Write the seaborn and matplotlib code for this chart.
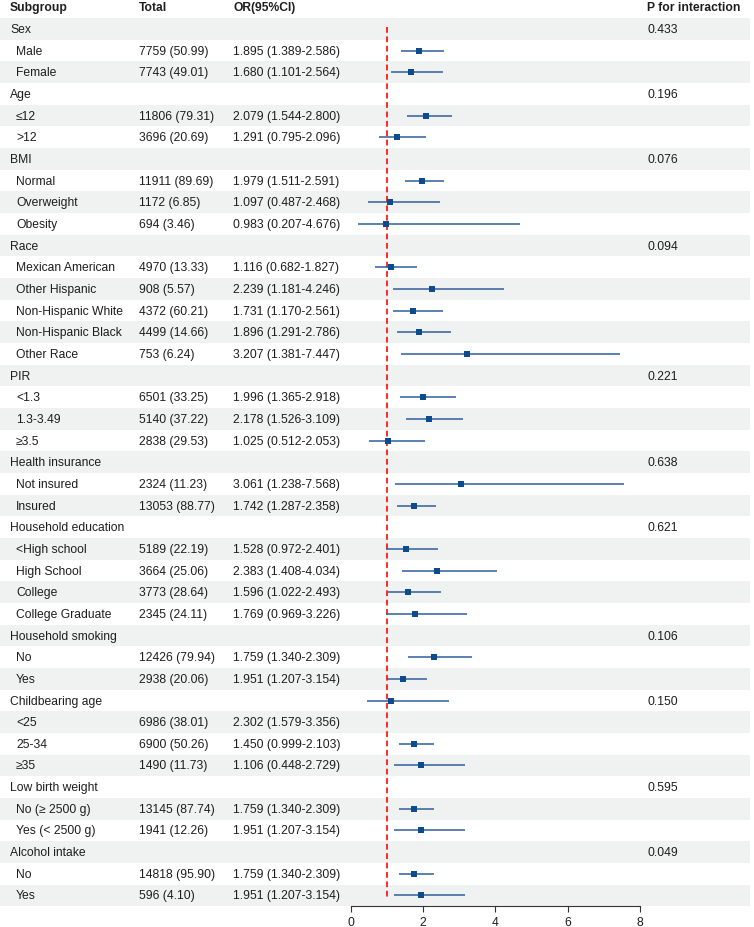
import numpy as np
import pandas as pd
import matplotlib
matplotlib.use("Agg")
import matplotlib.pyplot as plt
import seaborn as sns

# ---------------- data ----------------
labels = ["Sex", "Male", "Female", "Age", "≤12", ">12", "BMI", "Normal", "Overweight", "Obesity",
          "Race", "Mexican American", "Other Hispanic", "Non-Hispanic White", "Non-Hispanic Black",
          "Other Race", "PIR", "<1.3", "1.3-3.49", "≥3.5", "Health insurance", "Not insured",
          "Insured", "Household education", "<High school", "High School", "College",
          "College Graduate", "Household smoking", "No", "Yes", "Childbearing age", "<25",
          "25-34", "≥35", "Low birth weight", "No (≥ 2500 g)", "Yes (< 2500 g)",
          "Alcohol intake", "No", "Yes"]
is_group = [1, 0, 0, 1, 0, 0, 1, 0, 0, 0,
            1, 0, 0, 0, 0, 0, 1, 0, 0, 0,
            1, 0, 0, 1, 0, 0, 0, 0, 1, 0,
            0, 1, 0, 0, 0, 1, 0, 0, 1, 0, 0]
totals = ["", "7759 (50.99)", "7743 (49.01)", "", "11806 (79.31)", "3696 (20.69)", "",
          "11911 (89.69)", "1172 (6.85)", "694 (3.46)", "", "4970 (13.33)", "908 (5.57)",
          "4372 (60.21)", "4499 (14.66)", "753 (6.24)", "", "6501 (33.25)", "5140 (37.22)",
          "2838 (29.53)", "", "2324 (11.23)", "13053 (88.77)", "", "5189 (22.19)",
          "3664 (25.06)", "3773 (28.64)", "2345 (24.11)", "", "12426 (79.94)", "2938 (20.06)",
          "", "6986 (38.01)", "6900 (50.26)", "1490 (11.73)", "", "13145 (87.74)",
          "1941 (12.26)", "", "14818 (95.90)", "596 (4.10)"]
or_text = ["", "1.895 (1.389-2.586)", "1.680 (1.101-2.564)", "", "2.079 (1.544-2.800)",
           "1.291 (0.795-2.096)", "", "1.979 (1.511-2.591)", "1.097 (0.487-2.468)",
           "0.983 (0.207-4.676)", "", "1.116 (0.682-1.827)", "2.239 (1.181-4.246)",
           "1.731 (1.170-2.561)", "1.896 (1.291-2.786)", "3.207 (1.381-7.447)", "",
           "1.996 (1.365-2.918)", "2.178 (1.526-3.109)", "1.025 (0.512-2.053)", "",
           "3.061 (1.238-7.568)", "1.742 (1.287-2.358)", "", "1.528 (0.972-2.401)",
           "2.383 (1.408-4.034)", "1.596 (1.022-2.493)", "1.769 (0.969-3.226)", "",
           "1.759 (1.340-2.309)", "1.951 (1.207-3.154)", "", "2.302 (1.579-3.356)",
           "1.450 (0.999-2.103)", "1.106 (0.448-2.729)", "", "1.759 (1.340-2.309)",
           "1.951 (1.207-3.154)", "", "1.759 (1.340-2.309)", "1.951 (1.207-3.154)"]
p_text = ["0.433", "", "", "0.196", "", "", "0.076", "", "", "", "0.094", "", "", "", "", "",
          "0.221", "", "", "", "0.638", "", "", "0.621", "", "", "", "", "0.106", "", "",
          "0.150", "", "", "", "0.595", "", "", "0.049", "", ""]

nan = np.nan
# plotted estimates (as drawn in the figure)
plot_or = [nan, 1.895, 1.680, nan, 2.079, 1.291, nan, 1.979, 1.097, 0.983,
           nan, 1.116, 2.239, 1.731, 1.896, 3.207, nan, 1.996, 2.178, 1.025,
           nan, 3.061, 1.742, nan, 1.528, 2.383, 1.596, 1.769, nan, 2.302,
           1.450, 1.106, nan, 1.759, 1.951, nan, 1.759, 1.951, nan, 1.759, 1.951]
plot_lo = [nan, 1.389, 1.101, nan, 1.544, 0.795, nan, 1.511, 0.487, 0.207,
           nan, 0.682, 1.181, 1.170, 1.291, 1.381, nan, 1.365, 1.526, 0.512,
           nan, 1.238, 1.287, nan, 0.972, 1.408, 1.022, 0.969, nan, 1.579,
           0.999, 0.448, nan, 1.340, 1.207, nan, 1.340, 1.207, nan, 1.340, 1.207]
plot_hi = [nan, 2.586, 2.564, nan, 2.800, 2.096, nan, 2.591, 2.468, 4.676,
           nan, 1.827, 4.246, 2.561, 2.786, 7.447, nan, 2.918, 3.109, 2.053,
           nan, 7.568, 2.358, nan, 2.401, 4.034, 2.493, 3.226, nan, 3.356,
           2.103, 2.729, nan, 2.309, 3.154, nan, 2.309, 3.154, nan, 2.309, 3.154]
x_ticks = [0, 2, 4, 6, 8]

headers = ["Subgroup", "Total", "OR(95%CI)", "P for interaction"]

df = pd.DataFrame({"row": np.arange(1, len(labels) + 1), "or": plot_or,
                   "lo": plot_lo, "hi": plot_hi})

# ---------------- style ----------------
sns.set_theme(style="white")
plt.rcParams["font.family"] = ["Liberation Sans", "DejaVu Sans"]

W, H = 754, 928
fig = plt.figure(figsize=(W / 100, H / 100), dpi=100)
ax_bottom_px = 907.3
ax = fig.add_axes([0, (H - ax_bottom_px) / H, 1, ax_bottom_px / H])

px0, px_per_unit = 350.7, 36.16
ax.set_xlim((0 - px0) / px_per_unit, (W - px0) / px_per_unit)
row_px = 21.66
top_row = 1 - 30.0 / row_px
ax.set_ylim(len(labels) + 0.5, top_row)

txt_color = "#1e1e1e"
fs = 8.7
shade = "#f0f1f1"

n = len(labels)
for i in range(n):
    r = i + 1
    if r % 2 == 1:
        ax.axhspan(r - 0.5, r + 0.5, xmin=0, xmax=750 / W, color=shade, lw=0, zorder=0)

tr = ax.get_yaxis_transform()
col_x = [10, 139, 233, 647]
header_y = 1 + (7.6 - 30.0) / row_px
for x, h in zip(col_x, headers):
    ax.text(x / W, header_y, h, transform=tr, ha="left", va="center", fontsize=fs,
            fontweight="bold", color=txt_color, clip_on=False)

for i in range(n):
    r = i + 1
    lx = 10 if is_group[i] else 16
    ax.text(lx / W, r, labels[i], transform=tr, ha="left", va="center", fontsize=fs, color=txt_color)
    if totals[i]:
        ax.text(col_x[1] / W, r, totals[i], transform=tr, ha="left", va="center", fontsize=fs, color=txt_color)
    if or_text[i]:
        ax.text(col_x[2] / W, r, or_text[i], transform=tr, ha="left", va="center", fontsize=fs, color=txt_color)
    if p_text[i]:
        ax.text(col_x[3] / W, r, p_text[i], transform=tr, ha="left", va="center", fontsize=fs, color=txt_color)

# reference line
ax.vlines(1, 0.9, n + 0.2, colors="#ff1a1a", linestyles=(0, (3.2, 2.0)), lw=1.3, zorder=2)

# CI lines and points
d = df.dropna()
ax.hlines(d["row"], d["lo"], d["hi"], colors="#2f5e9c", lw=1.1, zorder=3)
sns.scatterplot(data=d, x="or", y="row", marker="s", s=22, color="#0d4a8e",
                linewidth=0, ax=ax, zorder=4, legend=False)

ax.set_xlabel("")
ax.set_ylabel("")
ax.set_yticks([])
ax.set_xticks(x_ticks)
ax.set_xticklabels([str(t) for t in x_ticks], fontsize=fs, color=txt_color)
for s in ["top", "right", "left"]:
    ax.spines[s].set_visible(False)
ax.spines["bottom"].set_bounds(0, 8)
ax.spines["bottom"].set_color("#333333")
ax.spines["bottom"].set_linewidth(0.8)
ax.tick_params(axis="x", direction="out", length=4.5, width=0.8, color="#333333", pad=2.5, bottom=True)
ax.set_facecolor("white")
ax.patch.set_alpha(0)

fig.savefig("out.png", dpi=100)
